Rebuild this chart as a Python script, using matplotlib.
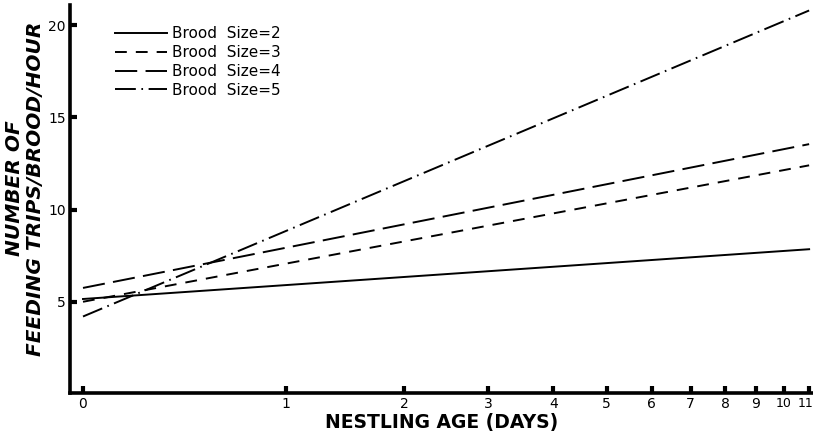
import numpy as np
import matplotlib.pyplot as plt
from matplotlib.transforms import ScaledTranslation

plt.rcParams['font.family'] = 'DejaVu Sans'
plt.rcParams['lines.scale_dashes'] = False

# Nestling age (days) at start and end of each fitted line
age = [0, 11]

# Feeding trips / brood / hour for each brood size
brood2 = [5.15, 7.85]
brood3 = [5.0, 12.4]
brood4 = [5.75, 13.55]
brood5 = [4.2, 20.8]

xticks = list(range(12))
yticks = [5, 10, 15, 20]

fig = plt.figure(figsize=(8.13, 4.38), dpi=100)
ax = fig.add_axes([0.0861, 0.1027, 0.9139, 0.886])

# x axis is on a log(age + 1) scale
ax.set_xscale('function', functions=(lambda x: np.log(x + 1), lambda x: np.exp(x) - 1))

lw = 1.4
ax.plot(age, brood2, color='black', lw=lw, label='Brood  Size=2')
ax.plot(age, brood3, color='black', lw=lw, dashes=(8.5, 6.5), label='Brood  Size=3')
ax.plot(age, brood4, color='black', lw=lw, dashes=(16, 6), label='Brood  Size=4')
ax.plot(age, brood5, color='black', lw=lw, dashes=(15, 4, 1.2, 4), label='Brood  Size=5')

ax.set_xlim(-0.0435, 11.16)
ax.set_ylim(0.05, 21.1)

ax.set_xticks(xticks)
ax.set_xticklabels([str(t) for t in xticks], fontsize=10)
ax.set_yticks(yticks)
ax.set_yticklabels([str(t) for t in yticks], fontsize=10)
ax.tick_params(axis='both', direction='in', length=5, width=3, pad=3)

# the last two day labels are squeezed together at the right end
xlabels = ax.get_xticklabels()
xlabels[10].set_fontsize(9)
xlabels[11].set_fontsize(9)
xlabels[11].set_ha('right')
xlabels[11].set_transform(xlabels[11].get_transform() + ScaledTranslation(4 / 100, 0, fig.dpi_scale_trans))

for side in ['top', 'right']:
    ax.spines[side].set_visible(False)
for side in ['left', 'bottom']:
    ax.spines[side].set_linewidth(2.6)

ax.set_xlabel('NESTLING AGE (DAYS)', fontsize=13.5, fontweight='bold', labelpad=1)
ax.set_ylabel('NUMBER OF\nFEEDING TRIPS/BROOD/HOUR', fontsize=14.5, fontstyle='italic',
              fontweight='bold', linespacing=1.12)
ax.yaxis.label.set_va('center')
ax.yaxis.set_label_coords(-0.0606, 0.527)

ax.legend(loc='upper left', bbox_to_anchor=(0.06, 0.945), frameon=False, fontsize=11,
          handlelength=3.4, handletextpad=0.35, labelspacing=0.25, borderpad=0,
          borderaxespad=0)

fig.savefig('out.png', dpi=100)
